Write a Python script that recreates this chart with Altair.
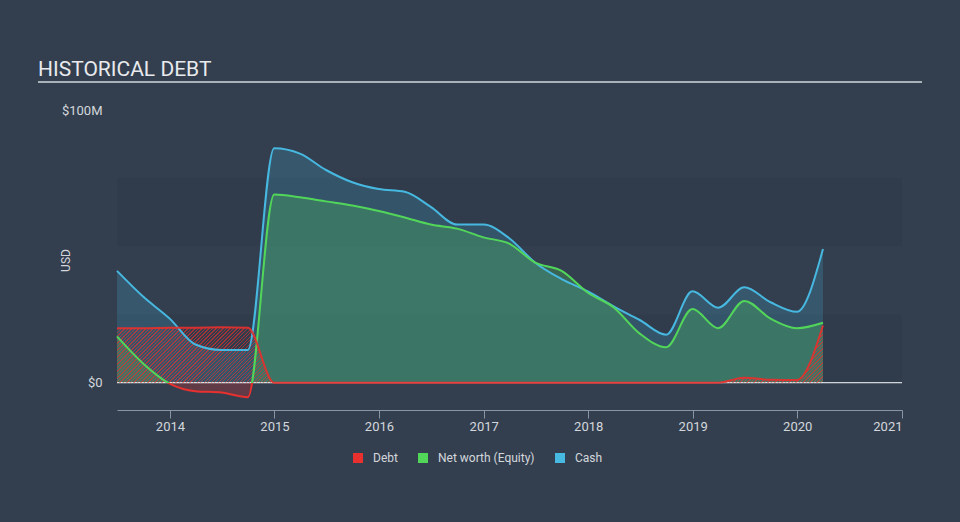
import altair as alt
import pandas as pd

# ---------------- data ----------------
dates = ["2013-06-30", "2013-09-30", "2013-12-31", "2014-03-31", "2014-06-30", "2014-09-30",
         "2014-12-31", "2015-03-31", "2015-06-30", "2015-09-30", "2015-12-31", "2016-03-31",
         "2016-06-30", "2016-09-30", "2016-12-31", "2017-03-31", "2017-06-30", "2017-09-30",
         "2017-12-31", "2018-03-31", "2018-06-30", "2018-09-30", "2018-12-31", "2019-03-31",
         "2019-06-30", "2019-09-30", "2019-12-31", "2020-03-31"]
debt = [20.0, 20.0, 20.2, 20.2, 20.3, 20.2, 0, 0, 0, 0, 0, 0, 0, 0,
        0, 0, 0, 0, 0, 0, 0, 0, 0, 0, 1.8, 1.1, 1.0, 21.0]
equity = [17, 7, -0.3, -3.1, -3.6, -5.3, 69, 68, 66.5, 65, 63, 60.6, 58, 56.5,
          53.3, 51, 44, 41, 33, 27.6, 18, 13, 27, 20, 30, 23.5, 20, 22]
cash = [41, 31.5, 23.5, 14, 12, 12, 86, 84, 78, 73.5, 71, 70, 64.5, 58,
        58, 53, 44, 38, 33.5, 28, 23, 17.6, 33.5, 27.5, 35, 29.5, 26, 49]

series_names = ["Debt", "Net worth (Equity)", "Cash"]
series_colors = ["#e8302e", "#52d65a", "#47b8e0"]
year_ticks = [2014, 2015, 2016, 2017, 2018, 2019, 2020, 2021]
y_ticks = [0, 100]
band_lo = [0, 50]
band_hi = [25, 75]
title_text = "HISTORICAL DEBT"
y_title = "USD"

# ---------------- styling ----------------
BG = "#333f4f"
BAND = "#303c4b"
RED, GREEN, BLUE = series_colors
TEXT = "#d3d7dc"
W, H = 785, 300
Y_MIN, Y_MAX = -10, 100
X_START, X_END = "2013-06-30", "2021-01-01"

df = pd.DataFrame({"date": dates, "debt": debt, "equity": equity, "cash": cash})

xscale = alt.Scale(type="utc", domain=[alt.DateTime(year=2013, month=6, date=30, utc=True),
                                       alt.DateTime(year=2021, month=1, date=1, utc=True)])
yscale = alt.Scale(domain=[Y_MIN, Y_MAX], nice=False, zero=False)
X = alt.X("date:T", scale=xscale,
          axis=alt.Axis(values=[alt.DateTime(year=y, month=1, date=1, utc=True) for y in year_ticks],
                        format="%Y", title=None, grid=False, domainColor="#8896a4",
                        tickColor="#8896a4", tickSize=8, labelColor=TEXT, labelFontSize=13,
                        labelPadding=2, labelFlush=True, labelFont="Roboto"))
yaxis = alt.Axis(values=y_ticks, title=y_title, grid=False, domain=False, ticks=False,
                 labelExpr="datum.value == 0 ? '$0' : '$' + datum.value + 'M'",
                 labelColor=TEXT, labelFontSize=13, labelPadding=15, labelFont="Roboto",
                 titleColor=TEXT, titleFontSize=12, titleFontWeight="normal",
                 titleFont="Roboto", titleX=-52, titleY=150, titleAngle=270,
                 titleAlign="center", titleBaseline="middle")


def Y(field):
    return alt.Y(field, scale=yscale, axis=yaxis, title=y_title)


# ---- hatch gradient for the debt area ("/" stripes) ----
total_days = (pd.Timestamp(X_END) - pd.Timestamp(X_START)).days
area_days = (pd.Timestamp(dates[-1]) - pd.Timestamp(dates[0])).days
Wd = W * area_days / total_days
Hd = max(debt) * H / (Y_MAX - Y_MIN)
r = Hd / Wd
k = (1 + r) / (1 + r * r)
n_per = int(round((Wd + Hd) / 3.5))
HATCH = "rgba(232,48,46,0.6)"
stops = []
for i in range(n_per):
    a, b, c = i / n_per, (i + 0.42) / n_per, (i + 1) / n_per
    stops += [alt.GradientStop(color=HATCH, offset=a),
              alt.GradientStop(color=HATCH, offset=b),
              alt.GradientStop(color="rgba(0,0,0,0)", offset=b),
              alt.GradientStop(color="rgba(0,0,0,0)", offset=c)]
hatch = alt.Gradient(gradient="linear", x1=0, y1=0, x2=k, y2=k * r, stops=stops)

# ---- equity: green above zero, red below zero ----
t0 = max(equity) / (max(equity) - min(equity))
eq_line_grad = alt.Gradient(gradient="linear", x1=0, y1=0, x2=0, y2=1, stops=[
    alt.GradientStop(color=GREEN, offset=0), alt.GradientStop(color=GREEN, offset=t0),
    alt.GradientStop(color=RED, offset=t0), alt.GradientStop(color=RED, offset=1)])
eq_fill_grad = alt.Gradient(gradient="linear", x1=0, y1=0, x2=0, y2=1, stops=[
    alt.GradientStop(color="rgba(80,210,90,0.26)", offset=0),
    alt.GradientStop(color="rgba(80,210,90,0.26)", offset=t0),
    alt.GradientStop(color="rgba(232,48,46,0.25)", offset=t0),
    alt.GradientStop(color="rgba(232,48,46,0.25)", offset=1)])

base = alt.Chart(df)

bands = alt.Chart(pd.DataFrame({"lo": band_lo, "hi": band_hi})).mark_rect(color=BAND).encode(
    x=alt.value(0), x2=alt.value(W), y=Y("lo:Q"), y2="hi:Q")

cash_area = base.mark_area(interpolate="monotone", fill=BLUE, fillOpacity=0.2).encode(
    x=X, y=Y("cash:Q"), y2=alt.datum(0))
eq_area = base.mark_area(interpolate="monotone", fill=eq_fill_grad).encode(
    x=X, y=Y("equity:Q"), y2=alt.datum(0))
zero_rule = alt.Chart(alt.Data(values=[{"v": 0}])).mark_rule(color="#ffffff", strokeWidth=1).encode(
    y=Y("v:Q"))
debt_area = base.mark_area(interpolate="monotone", fill=hatch).encode(
    x=X, y=Y("debt:Q"), y2=alt.datum(0))
cash_line = base.mark_line(interpolate="monotone", color=BLUE, strokeWidth=2).encode(
    x=X, y=Y("cash:Q"))
eq_line = base.mark_line(interpolate="monotone", stroke=eq_line_grad, strokeWidth=2).encode(
    x=X, y=Y("equity:Q"))
debt_line = base.mark_line(interpolate="monotone", color=RED, strokeWidth=2, opacity=0.9).encode(
    x=X, y=Y("debt:Q"))

legend_df = pd.DataFrame({"series": series_names, "date": [dates[0]] * 3, "v": [0, 0, 0]})
legend_layer = alt.Chart(legend_df).mark_square(opacity=0).encode(
    x=X, y=Y("v:Q"),
    color=alt.Color("series:N", title=None,
                    scale=alt.Scale(domain=series_names, range=series_colors),
                    sort=series_names,
                    legend=alt.Legend(orient="none", legendX=235, legendY=342, direction="horizontal",
                                      symbolType="square", symbolSize=100, symbolOpacity=1,
                                      symbolStrokeWidth=0, labelColor=TEXT, labelFontSize=12,
                                      labelFont="Roboto", labelOffset=9, columnPadding=19)))

title = alt.Chart(alt.Data(values=[{"t": title_text}])).mark_text(
    align="left", baseline="alphabetic", fontSize=21, font="Roboto", color="#e8eaed").encode(
    text="t:N", x=alt.value(-79), y=alt.value(-34))
underline = alt.Chart(alt.Data(values=[{"t": 0}])).mark_rule(color="#a8b0b8", strokeWidth=2).encode(
    x=alt.value(-79), x2=alt.value(805), y=alt.value(-28))

chart = alt.layer(bands, cash_area, eq_area, zero_rule, debt_area, cash_line, eq_line, debt_line,
                  legend_layer, title, underline).properties(
    width=W, height=H,
    padding={"left": 117, "top": 110, "right": 58, "bottom": 112},
    autosize=alt.AutoSizeParams(type="none"),
).configure(background=BG, font="Roboto").configure_view(strokeWidth=0)

chart.save("out.html", embed_options={"renderer": "svg", "actions": False})
